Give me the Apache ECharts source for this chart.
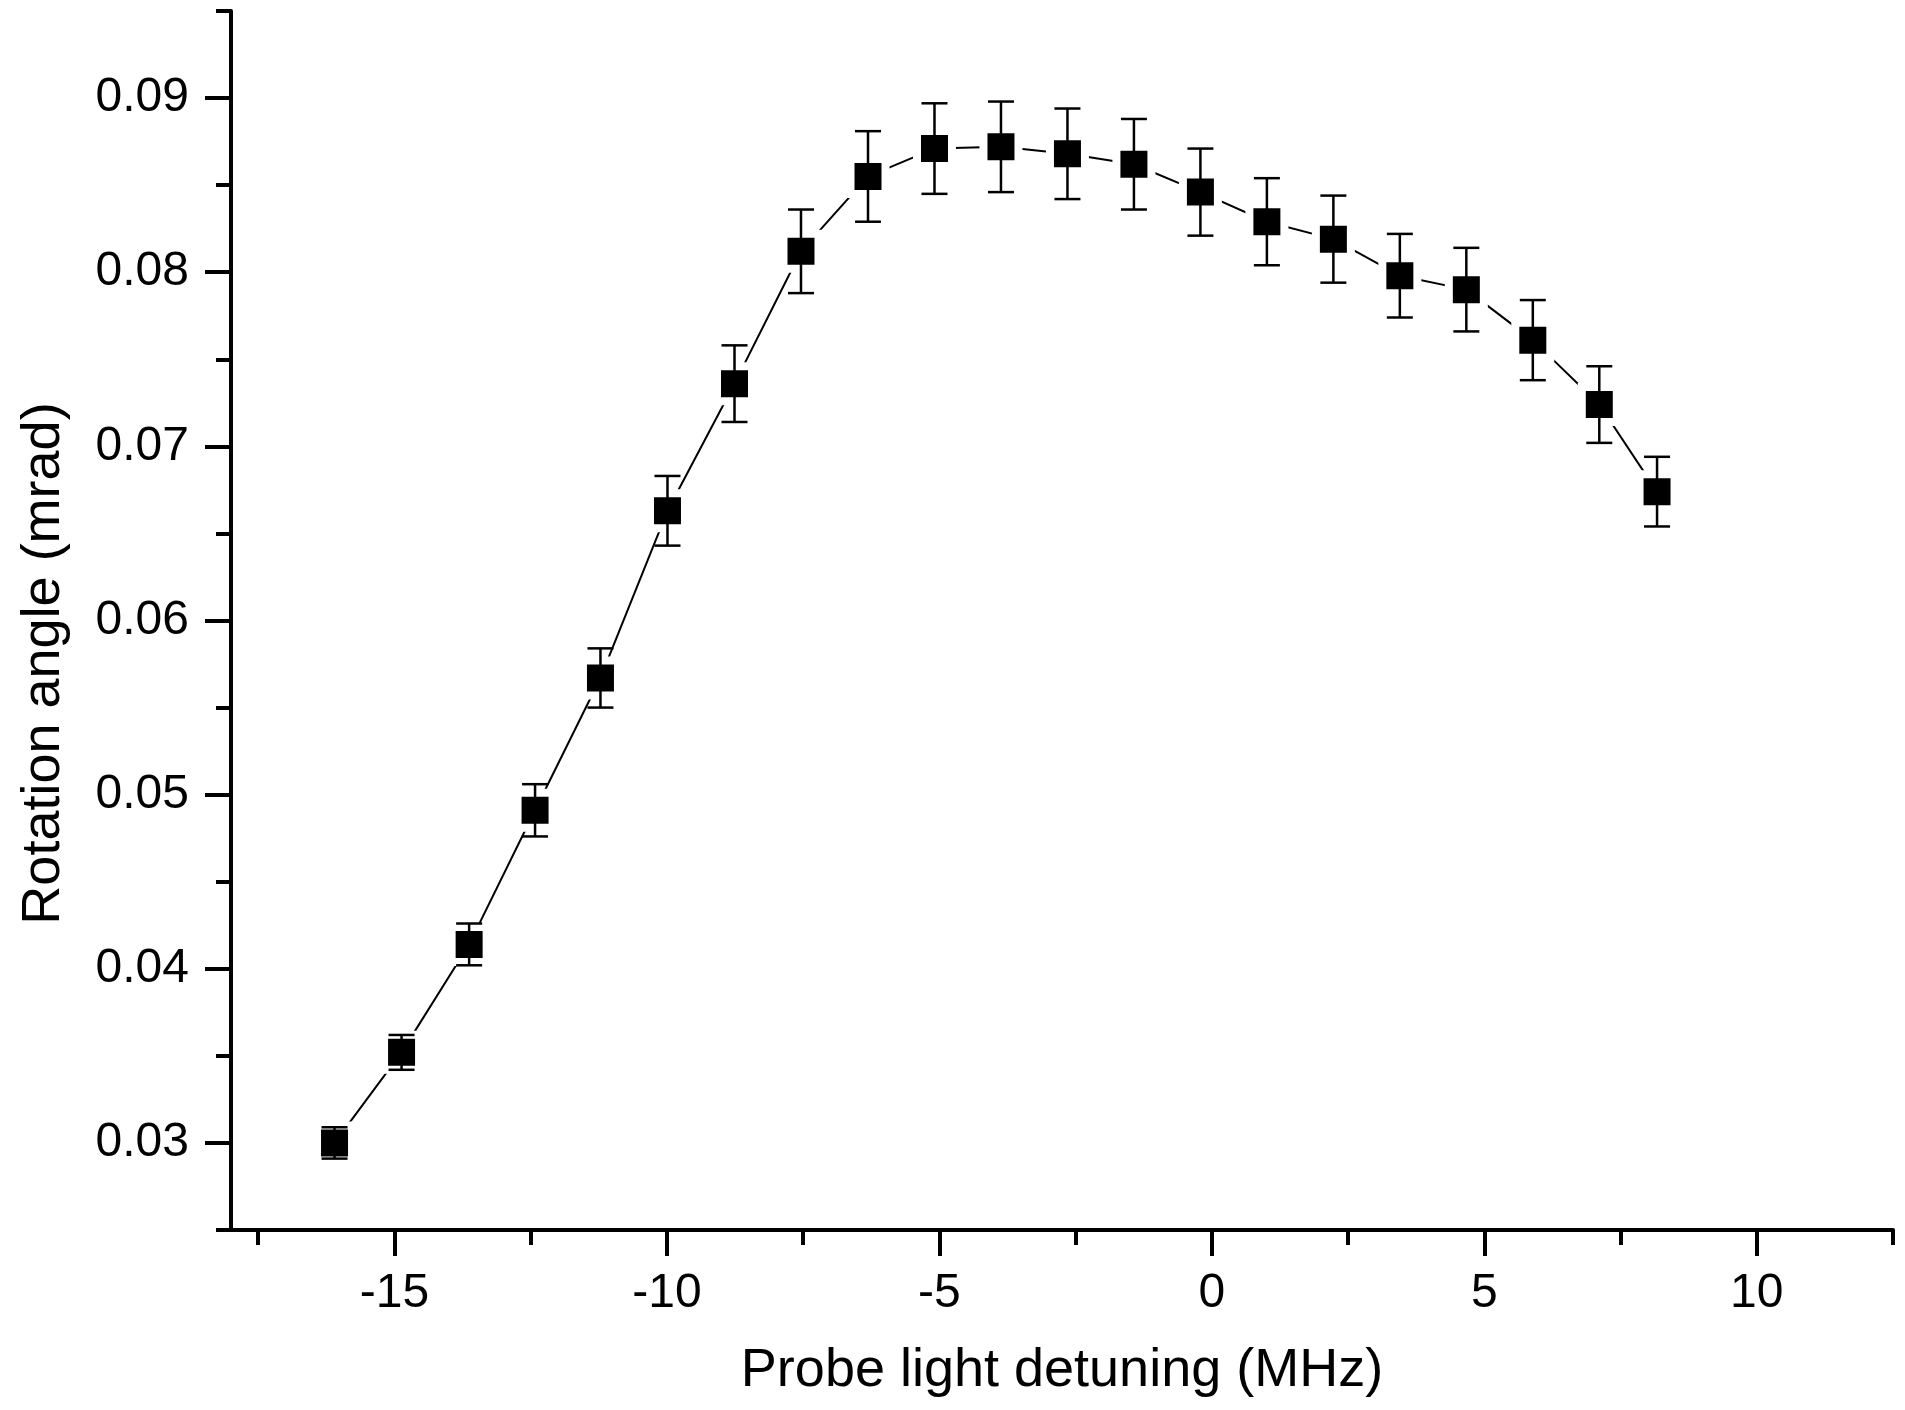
<!DOCTYPE html>
<html lang="en">
  <head>
    <meta charset="UTF-8" />
    <title>Rotation angle vs probe detuning</title>
    <script src="https://cdn.jsdelivr.net/npm/echarts@6.0.0/dist/echarts.min.js"></script>
    <style>
      body { margin: 0; background: #fff; }
    </style>
  </head>
  <body>
    <div id="main" style="width: 1905px; height: 1410px"></div>
    <script type="text/javascript">
      // detuning (MHz)
      const detuning = [
        -16.1, -14.87, -13.63, -12.42, -11.22, -9.99, -8.76, -7.54, -6.31,
        -5.09, -3.87, -2.65, -1.43, -0.21, 1.01, 2.23, 3.45, 4.67, 5.89, 7.11,
        8.17,
      ];
      // rotation angle (mrad)
      const rotation = [
        0.03, 0.0352, 0.0414, 0.0491, 0.0567, 0.0663, 0.0736, 0.0812, 0.0855,
        0.0871, 0.0872, 0.0868, 0.0862, 0.0846, 0.0829, 0.0819, 0.0798, 0.079,
        0.0761, 0.0724, 0.0674,
      ];
      // error bar half height
      const errors = [
        0.0009, 0.001, 0.0012, 0.0015, 0.0017, 0.002, 0.0022, 0.0024, 0.0026,
        0.0026, 0.0026, 0.0026, 0.0026, 0.0025, 0.0025, 0.0025, 0.0024,
        0.0024, 0.0023, 0.0022, 0.002,
      ];
      const xMajorTicks = [-15, -10, -5, 0, 5, 10];
      const xMinorTicks = [-17.5, -12.5, -7.5, -2.5, 2.5, 7.5, 12.5];
      const yMajorTicks = [0.03, 0.04, 0.05, 0.06, 0.07, 0.08, 0.09];
      const yMinorTicks = [0.025, 0.035, 0.045, 0.055, 0.065, 0.075, 0.085, 0.095];

      const font = "Liberation Sans, Arial, sans-serif";

      const points = detuning.map((x, i) => [x, rotation[i]]);
      const bars = detuning.map((x, i) => [
        x,
        rotation[i] - errors[i],
        rotation[i] + errors[i],
      ]);

      let myChart = echarts.init(document.getElementById("main"));

      let options = {
        animation: false,
        backgroundColor: "#fff",
        grid: { left: 231, right: 12, top: 11, bottom: 180 },
        xAxis: [
          {
            type: "value",
            min: -18,
            max: 12.5,
            position: "bottom",
            name: "Probe light detuning (MHz)",
            nameLocation: "middle",
            nameGap: 114,
            nameTextStyle: { fontSize: 54, color: "#000", fontFamily: font },
            axisLine: { show: true, onZero: false, lineStyle: { color: "#000", width: 4 } },
            axisTick: {
              show: true,
              customValues: xMajorTicks,
              length: 26,
              lineStyle: { color: "#000", width: 4 },
            },
            axisLabel: {
              customValues: xMajorTicks,
              fontSize: 48,
              color: "#000",
              fontFamily: font,
              margin: 40,
            },
            splitLine: { show: false },
          },
          {
            type: "value",
            min: -18,
            max: 12.5,
            position: "bottom",
            axisLine: { show: false, onZero: false },
            axisTick: {
              show: true,
              customValues: xMinorTicks,
              length: 15,
              lineStyle: { color: "#000", width: 4 },
            },
            axisLabel: { show: false },
            splitLine: { show: false },
          },
        ],
        yAxis: [
          {
            type: "value",
            min: 0.025,
            max: 0.095,
            position: "left",
            name: "Rotation angle (mrad)",
            nameLocation: "middle",
            nameGap: 160,
            nameTextStyle: {
              fontSize: 54,
              color: "#000",
              fontFamily: font,
              padding: [0, 86, 0, 0],
            },
            axisLine: { show: true, onZero: false, lineStyle: { color: "#000", width: 4 } },
            axisTick: {
              show: true,
              customValues: yMajorTicks,
              length: 26,
              lineStyle: { color: "#000", width: 4 },
            },
            axisLabel: {
              customValues: yMajorTicks,
              fontSize: 48,
              color: "#000",
              fontFamily: font,
              margin: 42,
            },
            splitLine: { show: false },
          },
          {
            type: "value",
            min: 0.025,
            max: 0.095,
            position: "left",
            axisLine: { show: false, onZero: false },
            axisTick: {
              show: true,
              customValues: yMinorTicks,
              length: 15,
              lineStyle: { color: "#000", width: 4 },
            },
            axisLabel: { show: false },
            splitLine: { show: false },
          },
        ],
        series: [
          {
            type: "line",
            data: points,
            xAxisIndex: 0,
            yAxisIndex: 0,
            z: 2,
            symbol: "rect",
            symbolSize: 35,
            itemStyle: { color: "#000", borderColor: "#fff", borderWidth: 8 },
            lineStyle: { color: "#000", width: 2 },
          },
          {
            type: "custom",
            data: bars,
            xAxisIndex: 0,
            yAxisIndex: 0,
            z: 3,
            encode: { x: 0, y: [1, 2] },
            renderItem: function (params, api) {
              const lo = api.coord([api.value(0), api.value(1)]);
              const hi = api.coord([api.value(0), api.value(2)]);
              const w = 13;
              const st = { stroke: "#000", lineWidth: 2.5 };
              return {
                type: "group",
                children: [
                  { type: "line", shape: { x1: lo[0], y1: lo[1], x2: hi[0], y2: hi[1] }, style: st },
                  { type: "line", shape: { x1: lo[0] - w, y1: lo[1], x2: lo[0] + w, y2: lo[1] }, style: st },
                  { type: "line", shape: { x1: hi[0] - w, y1: hi[1], x2: hi[0] + w, y2: hi[1] }, style: st },
                ],
              };
            },
          },
        ],
      };

      myChart.setOption(options);
    </script>
  </body>
</html>
